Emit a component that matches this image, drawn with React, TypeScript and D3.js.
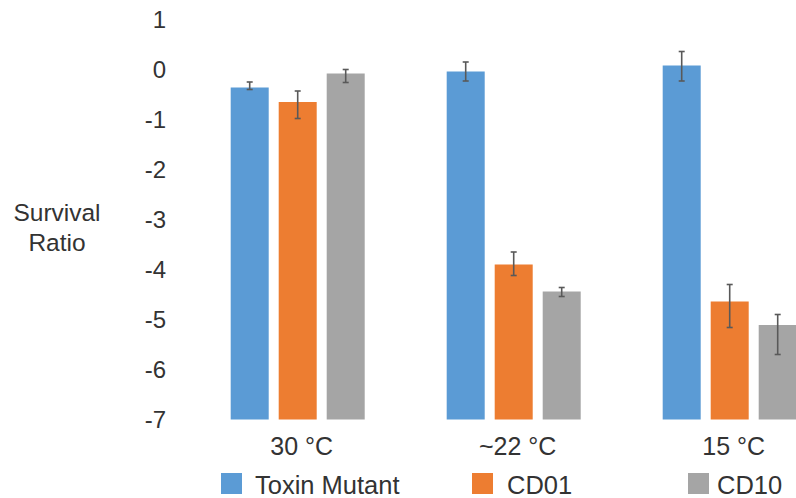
import React, { useEffect } from 'react';
import * as d3 from 'd3';

const categories = ['30 °C', '~22 °C', '15 °C'];
const series = ['Toxin Mutant', 'CD01', 'CD10'];
const colors = ['#5B9BD5', '#ED7D31', '#A5A5A5'];

// values per series, one per category
const toxinMutant = [-0.36, -0.04, 0.08];
const cd01 = [-0.65, -3.9, -4.64];
const cd10 = [-0.08, -4.44, -5.11];

// error bar ends (upper / lower)
const toxinMutantHi = [-0.25, 0.15, 0.36];
const toxinMutantLo = [-0.4, -0.23, -0.23];
const cd01Hi = [-0.43, -3.65, -4.3];
const cd01Lo = [-0.98, -4.12, -5.16];
const cd10Hi = [0.0, -4.36, -4.9];
const cd10Lo = [-0.26, -4.54, -5.7];

const yTicks = [1, 0, -1, -2, -3, -4, -5, -6, -7];

const values = [toxinMutant, cd01, cd10];
const errHi = [toxinMutantHi, cd01Hi, cd10Hi];
const errLo = [toxinMutantLo, cd01Lo, cd10Lo];

const width = 796;
const height = 498;
const font = 'Arial, "Liberation Sans", sans-serif';
const textColor = '#333';

export default function App() {
  useEffect(() => {
    document.body.style.margin = '0';
  }, []);

  const y = d3.scaleLinear().domain([-7, 1]).range([419.5, 19.5]);

  // the plot area runs past the right edge, as in the original
  const x0 = d3.scaleBand<string>()
    .domain(categories)
    .range([189.7, 837.7])
    .paddingInner(0.3796)
    .paddingOuter(0.1898);

  const x1 = d3.scaleBand<string>()
    .domain(series)
    .range([0, x0.bandwidth()])
    .paddingInner(0.2083);

  const capW = 6;

  // legend swatch / text positions
  const legendX = [221, 472, 688];
  const legendTextX = [255, 507, 717];

  return (
    <svg width={width} height={height} style={{ display: 'block', fontFamily: font }}>
      <rect width={width} height={height} fill="#fff" />

      {/* y axis labels */}
      {yTicks.map((t) => (
        <text key={t} x={166} y={y(t)} dy="0.35em" textAnchor="end" fontSize={24} fill={textColor}>
          {t}
        </text>
      ))}

      <text x={57} y={221} textAnchor="middle" fontSize={24.5} fill={textColor}>Survival</text>
      <text x={57} y={251} textAnchor="middle" fontSize={24.5} fill={textColor}>Ratio</text>

      {/* bars */}
      {categories.map((c, ci) => (
        <g key={c} transform={`translate(${x0(c)},0)`}>
          {series.map((s, si) => {
            const v = values[si][ci];
            const bx = x1(s)!;
            const cx = bx + x1.bandwidth() / 2;
            return (
              <g key={s}>
                <rect x={bx} y={y(v)} width={x1.bandwidth()} height={y(-7) - y(v)} fill={colors[si]} />
                <g stroke="#595959" strokeWidth={1.6}>
                  <line x1={cx} x2={cx} y1={y(errHi[si][ci])} y2={y(errLo[si][ci])} />
                  <line x1={cx - capW / 2} x2={cx + capW / 2} y1={y(errHi[si][ci])} y2={y(errHi[si][ci])} />
                  <line x1={cx - capW / 2} x2={cx + capW / 2} y1={y(errLo[si][ci])} y2={y(errLo[si][ci])} />
                </g>
              </g>
            );
          })}
          <text x={x0.bandwidth() / 2 + 4} y={455} textAnchor="middle" fontSize={25} fill={textColor}>
            {c}
          </text>
        </g>
      ))}

      {/* legend */}
      {series.map((s, si) => (
        <g key={s}>
          <rect x={legendX[si]} y={473} width={21} height={21} fill={colors[si]} />
          <text x={legendTextX[si]} y={494} fontSize={25.5} fill={textColor}>{s}</text>
        </g>
      ))}
    </svg>
  );
}
